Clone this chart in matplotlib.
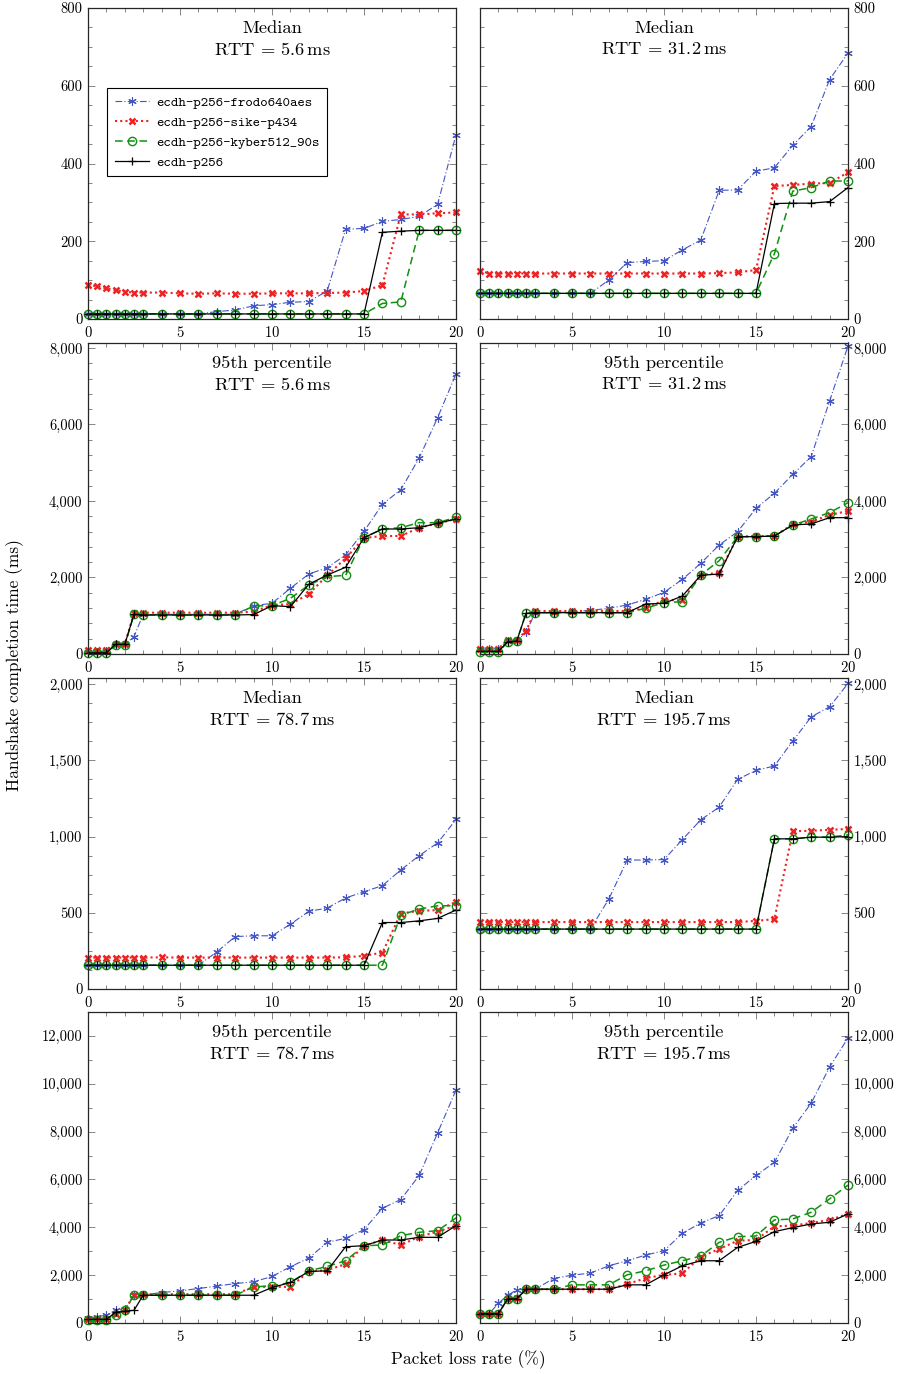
import matplotlib
matplotlib.use("Agg")
import matplotlib.pyplot as plt
from matplotlib.ticker import MultipleLocator, FuncFormatter

plt.rcParams['font.family'] = 'serif'
plt.rcParams['font.serif'] = ['cmr10', 'DejaVu Serif']
plt.rcParams['mathtext.fontset'] = 'cm'
plt.rcParams['axes.formatter.use_mathtext'] = True

# ---------------- data ----------------
loss = [0, 0.5, 1, 1.5, 2, 2.5, 3, 4, 5, 6, 7, 8, 9, 10, 11, 12, 13, 14, 15, 16, 17, 18, 19, 20]

series_names = ["ecdh-p256-frodo640aes", "ecdh-p256-sike-p434", "ecdh-p256-kyber512_90s", "ecdh-p256"]

# Median, RTT = 5.6 ms
med_5_6_frodo = [13, 13, 13, 13, 13, 13, 13, 13, 13, 13, 19, 23, 34, 37, 43, 45, 72, 231, 233, 251, 256, 264, 295, 474]
med_5_6_sike = [88, 84, 79, 74, 70, 68, 68, 68, 66, 65, 66, 65, 65, 66, 66, 66, 67, 68, 72, 87, 269, 269, 272, 274]
med_5_6_kyber = [13, 13, 13, 13, 13, 13, 13, 13, 13, 13, 13, 13, 13, 13, 13, 13, 13, 13, 13, 40, 44, 228, 228, 228]
med_5_6_ecdh = [13, 13, 13, 13, 13, 13, 13, 13, 13, 13, 13, 13, 13, 13, 13, 13, 13, 13, 13, 223, 226, 228, 228, 228]

# Median, RTT = 31.2 ms
med_31_2_frodo = [66, 66, 66, 66, 66, 66, 66, 66, 66, 66, 100, 145, 148, 150, 178, 203, 331, 332, 380, 389, 447, 495, 616, 684]
med_31_2_sike = [124, 117, 117, 117, 117, 117, 117, 117, 117, 117, 117, 117, 117, 117, 117, 117, 118, 120, 126, 342, 345, 348, 350, 377]
med_31_2_kyber = [66, 66, 66, 66, 66, 66, 66, 66, 66, 66, 66, 66, 66, 66, 66, 66, 66, 66, 66, 168, 329, 338, 355, 355]
med_31_2_ecdh = [66, 66, 66, 66, 66, 66, 66, 66, 66, 66, 66, 66, 66, 66, 66, 66, 66, 66, 66, 297, 298, 298, 302, 338]

# 95th percentile, RTT = 5.6 ms
p95_5_6_frodo = [50, 50, 87, 253, 253, 453, 1037, 1037, 1037, 1037, 1037, 1037, 1264, 1325, 1717, 2091, 2257, 2588, 3207, 3913, 4296, 5124, 6178, 7320]
p95_5_6_sike = [105, 105, 105, 261, 262, 1063, 1080, 1080, 1080, 1080, 1080, 1080, 1106, 1281, 1299, 1569, 2057, 2502, 3033, 3085, 3085, 3302, 3417, 3529]
p95_5_6_kyber = [30, 30, 30, 227, 227, 1037, 1020, 1020, 1020, 1020, 1020, 1020, 1255, 1264, 1455, 1804, 2022, 2057, 3041, 3268, 3302, 3433, 3433, 3573]
p95_5_6_ecdh = [30, 30, 30, 253, 253, 1037, 1020, 1020, 1020, 1020, 1020, 1020, 1030, 1264, 1237, 1822, 2065, 2266, 3041, 3268, 3268, 3302, 3417, 3529]

# 95th percentile, RTT = 31.2 ms
p95_31_2_frodo = [131, 131, 140, 340, 340, 567, 1080, 1080, 1106, 1141, 1194, 1281, 1429, 1612, 1952, 2370, 2850, 3198, 3808, 4200, 4697, 5158, 6614, 8052]
p95_31_2_sike = [140, 140, 140, 366, 370, 600, 1124, 1124, 1124, 1124, 1124, 1124, 1194, 1412, 1400, 2065, 2126, 3067, 3085, 3085, 3390, 3459, 3634, 3739]
p95_31_2_kyber = [44, 44, 44, 314, 340, 1063, 1080, 1080, 1080, 1080, 1080, 1080, 1194, 1342, 1368, 2065, 2440, 3067, 3067, 3085, 3372, 3529, 3695, 3956]
p95_31_2_ecdh = [70, 70, 70, 314, 340, 1063, 1080, 1080, 1080, 1080, 1080, 1080, 1307, 1325, 1516, 2057, 2091, 3067, 3067, 3085, 3372, 3400, 3564, 3564]

# Median, RTT = 78.7 ms
med_78_7_frodo = [156, 156, 156, 156, 156, 156, 156, 156, 156, 156, 243, 344, 349, 349, 425, 509, 531, 597, 638, 678, 781, 875, 958, 1112]
med_78_7_sike = [206, 206, 206, 206, 206, 206, 206, 208, 206, 206, 206, 206, 206, 206, 206, 206, 206, 208, 217, 239, 495, 513, 517, 572]
med_78_7_kyber = [156, 156, 156, 156, 156, 156, 156, 156, 156, 156, 156, 156, 156, 156, 156, 156, 156, 156, 156, 156, 485, 524, 546, 546]
med_78_7_ecdh = [156, 156, 156, 156, 156, 156, 156, 156, 156, 156, 156, 156, 156, 156, 156, 156, 156, 156, 156, 436, 436, 447, 463, 518]

# Median, RTT = 195.7 ms
med_195_7_frodo = [393, 393, 393, 393, 393, 393, 393, 393, 393, 393, 590, 846, 846, 849, 980, 1110, 1193, 1375, 1434, 1463, 1627, 1785, 1851, 2004]
med_195_7_sike = [439, 439, 439, 439, 439, 439, 439, 439, 439, 439, 439, 439, 439, 439, 439, 439, 439, 439, 447, 458, 1035, 1038, 1044, 1050]
med_195_7_kyber = [393, 393, 393, 393, 393, 393, 393, 393, 393, 393, 393, 393, 393, 393, 393, 393, 393, 393, 393, 985, 985, 996, 996, 1011]
med_195_7_ecdh = [393, 393, 393, 393, 393, 393, 393, 393, 393, 393, 393, 393, 393, 393, 393, 393, 393, 393, 393, 985, 985, 996, 996, 1000]

# 95th percentile, RTT = 78.7 ms
p95_78_7_frodo = [224, 252, 336, 531, 573, 1175, 1175, 1273, 1343, 1441, 1539, 1651, 1721, 1945, 2350, 2714, 3371, 3539, 3903, 4799, 5161, 6168, 7945, 9736]
p95_78_7_sike = [154, 154, 154, 392, 531, 1175, 1203, 1203, 1203, 1203, 1203, 1203, 1511, 1511, 1511, 2154, 2210, 2462, 3231, 3469, 3259, 3609, 3819, 4071]
p95_78_7_kyber = [112, 112, 112, 336, 531, 1161, 1161, 1161, 1161, 1161, 1161, 1161, 1511, 1553, 1693, 2182, 2364, 2602, 3231, 3259, 3651, 3791, 3861, 4392]
p95_78_7_ecdh = [154, 154, 154, 448, 490, 531, 1161, 1161, 1161, 1161, 1161, 1161, 1161, 1483, 1693, 2154, 2182, 3189, 3231, 3469, 3469, 3581, 3581, 4071]

# 95th percentile, RTT = 195.7 ms
p95_195_7_frodo = [392, 392, 825, 1161, 1385, 1413, 1413, 1860, 2000, 2084, 2392, 2602, 2840, 3021, 3749, 4182, 4490, 5539, 6168, 6714, 8141, 9190, 10700, 11918]
p95_195_7_sike = [392, 392, 392, 1021, 1035, 1413, 1413, 1413, 1413, 1413, 1413, 1623, 1874, 2014, 2070, 2770, 3091, 3441, 3469, 4042, 4070, 4182, 4308, 4560]
p95_195_7_kyber = [392, 392, 392, 1007, 1007, 1413, 1413, 1413, 1595, 1595, 1595, 2014, 2182, 2420, 2602, 2798, 3371, 3609, 3637, 4308, 4350, 4630, 5189, 5763]
p95_195_7_ecdh = [392, 392, 392, 1007, 1007, 1413, 1413, 1413, 1413, 1413, 1413, 1595, 1595, 2014, 2392, 2602, 2602, 3161, 3413, 3819, 3987, 4140, 4210, 4560]

panel_titles = [
    ("Median", "5.6"), ("Median", "31.2"),
    ("95th percentile", "5.6"), ("95th percentile", "31.2"),
    ("Median", "78.7"), ("Median", "195.7"),
    ("95th percentile", "78.7"), ("95th percentile", "195.7"),
]
panel_data = [
    (med_5_6_frodo, med_5_6_sike, med_5_6_kyber, med_5_6_ecdh),
    (med_31_2_frodo, med_31_2_sike, med_31_2_kyber, med_31_2_ecdh),
    (p95_5_6_frodo, p95_5_6_sike, p95_5_6_kyber, p95_5_6_ecdh),
    (p95_31_2_frodo, p95_31_2_sike, p95_31_2_kyber, p95_31_2_ecdh),
    (med_78_7_frodo, med_78_7_sike, med_78_7_kyber, med_78_7_ecdh),
    (med_195_7_frodo, med_195_7_sike, med_195_7_kyber, med_195_7_ecdh),
    (p95_78_7_frodo, p95_78_7_sike, p95_78_7_kyber, p95_78_7_ecdh),
    (p95_195_7_frodo, p95_195_7_sike, p95_195_7_kyber, p95_195_7_ecdh),
]
row_ymax = [800, 8130, 2040, 13000]
row_major = [200, 2000, 500, 2000]
row_minor = [50, 400, 125, 1000]

# ---------------- style ----------------
styles = [
    dict(color='#4455c4', ls=(0, (6, 2, 1, 2)), lw=0.8, marker=(6, 2, 0), ms=6, mew=0.8),
    dict(color='#ee2222', ls=(0, (1, 1.5)), lw=1.5, marker='x', ms=4.5, mew=1.8),
    dict(color='#119011', ls=(0, (5, 3)), lw=1.1, marker='o', ms=6, mew=1.0, mfc='none'),
    dict(color='black', ls='-', lw=0.9, marker='+', ms=6, mew=0.9),
]

fig = plt.figure(figsize=(9.07, 13.74), dpi=100)
W, H = 907, 1374
col_left = [88, 480]
ax_w = 368
row_top = [8, 343, 678, 1012]
ax_h = 311

fmt = FuncFormatter(lambda v, p: f"{int(round(v)):,}")

for i in range(8):
    r, c = divmod(i, 2)
    ax = fig.add_axes([col_left[c] / W, 1 - (row_top[r] + ax_h) / H, ax_w / W, ax_h / H])
    for name, ys, st in zip(series_names, panel_data[i], styles):
        st = dict(st)
        mfc = st.pop('mfc', st['color'])
        ax.plot(loss, ys, label=name, mfc=mfc, mec=st['color'], clip_on=False,
                dash_capstyle='butt', **st)
    ax.set_xlim(0, 20)
    ax.set_ylim(0, row_ymax[r])
    ax.xaxis.set_major_locator(MultipleLocator(5))
    ax.xaxis.set_minor_locator(MultipleLocator(1))
    ax.yaxis.set_major_locator(MultipleLocator(row_major[r]))
    ax.yaxis.set_minor_locator(MultipleLocator(row_minor[r]))
    ax.yaxis.set_major_formatter(fmt)
    ax.tick_params(which='both', direction='in', top=True, bottom=True, left=True, right=True,
                   color='0.45', labelsize=10.5, width=0.6)
    ax.tick_params(which='major', length=5, pad=4)
    ax.tick_params(which='minor', length=3)
    if c == 1:
        ax.tick_params(labelleft=False, labelright=True)
    for s in ax.spines.values():
        s.set_linewidth(0.9)
        s.set_color('0.15')
    head, rtt = panel_titles[i]
    ax.text(0.5, 0.958, head, transform=ax.transAxes, ha='center', va='top', fontsize=13.3)
    ax.text(0.5, 0.895, r'$\mathrm{RTT}\,=\,' + rtt + r'\,\mathrm{ms}$', transform=ax.transAxes,
            ha='center', va='top', fontsize=13.3)
    if i == 0:
        leg = ax.legend(loc='upper left', bbox_to_anchor=(0.052, 0.743), fancybox=False,
                        edgecolor='black', framealpha=1, handlelength=2.4, numpoints=1,
                        borderpad=0.55, labelspacing=0.5, handletextpad=0.5,
                        borderaxespad=0,
                        prop=dict(family=['cmtt10', 'DejaVu Sans Mono'], size=10.2))
        leg.get_frame().set_linewidth(0.8)

fig.text(15 / W, 1 - 665 / H, 'Handshake completion time (ms)', rotation=90,
         ha='center', va='center', fontsize=12.5)
fig.text(468 / W, 1 - 1360 / H, 'Packet loss rate (%)', ha='center', va='center', fontsize=12.5)

fig.savefig('out.png', dpi=100)
